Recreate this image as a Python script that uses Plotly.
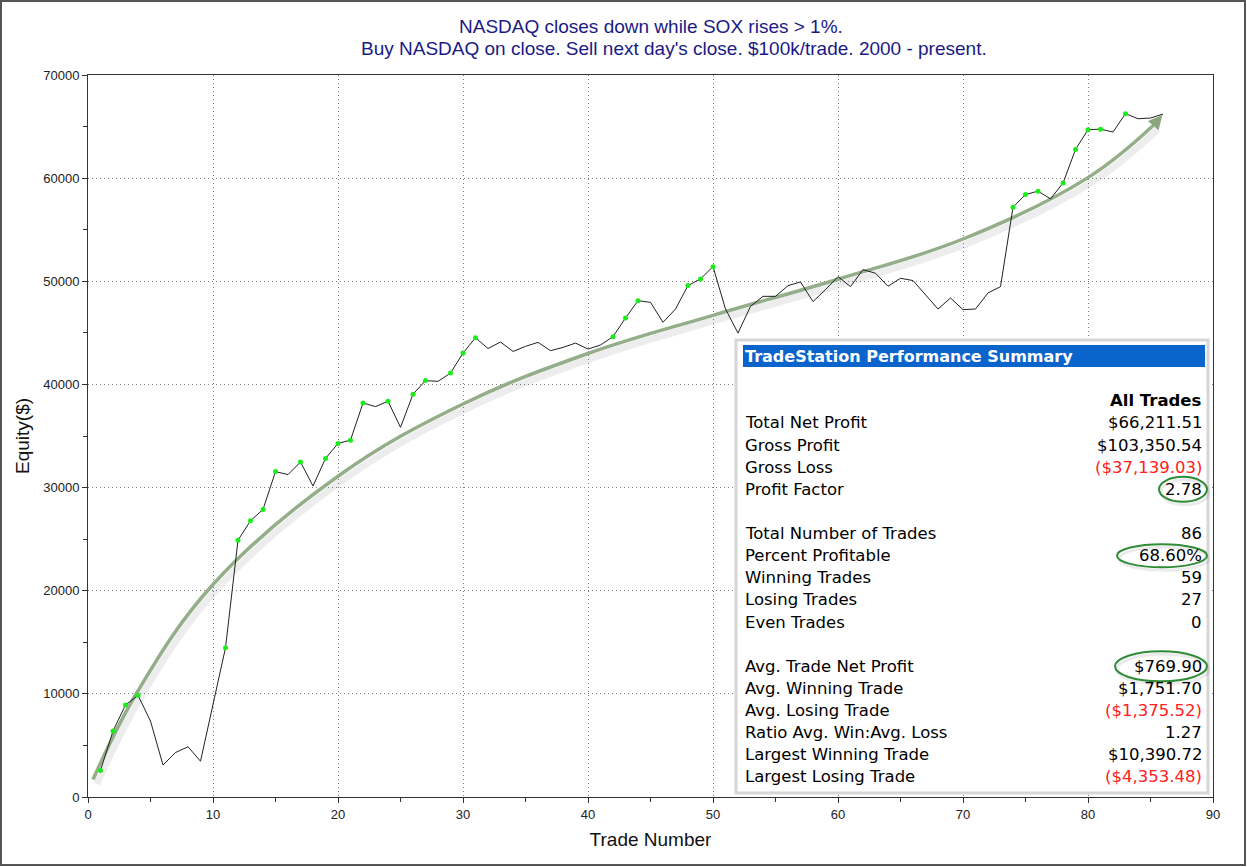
import plotly.graph_objects as go

# ---------------- data ----------------
trade_numbers = list(range(1, 87))
equity = [2580, 6390, 8930, 9850, 7360, 3100, 4310, 4870, 3470, 8900,
          14470, 24900, 26780, 27880, 31550, 31260, 32480, 30150, 32820, 34280,
          34600, 38200, 37850, 38370, 35840, 39050, 40370, 40300, 41100, 43040,
          44530, 43480, 44110, 43200, 43690, 44080, 43270, 43590, 44010, 43430,
          43820, 44630, 46440, 48120, 47960, 46020, 47310, 49580, 50230, 51420,
          47310, 44980, 47570, 48540, 48540, 49580, 49930, 48030, 49190, 50450,
          49480, 51130, 50780, 49520, 50290, 50070, 48710, 47310, 48380, 47250,
          47310, 48870, 49480, 57180, 58410, 58740, 57990, 59520, 62780, 64700,
          64750, 64470, 66250, 65760, 65830, 66212]

trend_x = [0.4, 4, 10, 20, 30, 40, 50, 60, 70, 80, 85.3]
trend_y = [1700, 10300, 20600, 31100, 38100, 43000, 46700, 50200, 54100, 60050, 65200]
arrow_tip = (85.95, 66120)

title_lines = ["NASDAQ closes down while SOX rises > 1%.",
               "Buy NASDAQ on close. Sell next day's close. $100k/trade. 2000 - present."]
x_ticks = list(range(0, 91, 10))
y_ticks = list(range(0, 70001, 10000))

table_title = "TradeStation Performance Summary"
table_column = "All Trades"
table_labels = ["Total Net Profit", "Gross Profit", "Gross Loss", "Profit Factor", "",
                "Total Number of Trades", "Percent Profitable", "Winning Trades", "Losing Trades",
                "Even Trades", "", "Avg. Trade Net Profit", "Avg. Winning Trade", "Avg. Losing Trade",
                "Ratio Avg. Win:Avg. Loss", "Largest Winning Trade", "Largest Losing Trade"]
table_values = ["$66,211.51", "$103,350.54", "($37,139.03)", "2.78", "",
                "86", "68.60%", "59", "27", "0", "",
                "$769.90", "$1,751.70", "($1,375.52)", "1.27", "$10,390.72", "($4,353.48)"]
circled_rows = [3, 6, 11]

# ---------------- layout geometry (pixels) ----------------
W, H = 1247, 867
L, R, T, B = 88, 1213, 75, 797


def px(xp):
    return (xp - L) / (R - L)


def py(yp):
    return (B - yp) / (B - T)


running_max = []
m = float("-inf")
for v in equity:
    running_max.append(v > m)
    m = max(m, v)
high_x = [t for t, h in zip(trade_numbers, running_max) if h]
high_y = [v for v, h in zip(equity, running_max) if h]

fig = go.Figure()

trend_color = "#94ae89"
# soft shadow of trend curve
fig.add_trace(go.Scatter(x=[x + 0.3 for x in trend_x], y=[y - 450 for y in trend_y], mode="lines",
                         line=dict(color="rgba(0,0,0,0.07)", width=7, shape="spline", smoothing=1.1),
                         hoverinfo="skip", showlegend=False))
fig.add_trace(go.Scatter(x=trend_x, y=trend_y, mode="lines",
                         line=dict(color=trend_color, width=3.5, shape="spline", smoothing=1.1),
                         hoverinfo="skip", showlegend=False))
fig.add_trace(go.Scatter(x=trade_numbers, y=equity, mode="lines",
                         line=dict(color="#222222", width=1), showlegend=False))
fig.add_trace(go.Scatter(x=high_x, y=high_y, mode="markers",
                         marker=dict(color="#19ee19", size=5), showlegend=False))

annotations = []
annotations.append(dict(x=arrow_tip[0], y=arrow_tip[1], ax=trend_x[-1], ay=trend_y[-1],
                        xref="x", yref="y", axref="x", ayref="y", text="", showarrow=True,
                        arrowhead=2, arrowsize=0.8, arrowwidth=3.5, arrowcolor="#8aa57f", standoff=0))

title_font = dict(family="Liberation Sans, Arial, sans-serif", size=19, color="#1a1a86")
annotations.append(dict(x=px(651), y=py(27), xref="paper", yref="paper", text=title_lines[0],
                        showarrow=False, font=title_font, xanchor="center", yanchor="middle"))
annotations.append(dict(x=px(674), y=py(48), xref="paper", yref="paper", text=title_lines[1],
                        showarrow=False, font=title_font, xanchor="center", yanchor="middle"))

shapes = []
# outer image frame
shapes.append(dict(type="rect", xref="paper", yref="paper", x0=px(1), x1=px(1245), y0=py(1), y1=py(865),
                   line=dict(color="#555555", width=2), layer="above"))
# table box
shapes.append(dict(type="rect", xref="paper", yref="paper", x0=px(736), x1=px(1208), y0=py(340), y1=py(793),
                   line=dict(color="#d6d6d6", width=3), fillcolor="white", layer="above"))
shapes.append(dict(type="rect", xref="paper", yref="paper", x0=px(743), x1=px(1205), y0=py(345), y1=py(367),
                   line=dict(width=0), fillcolor="#0a64cc", layer="above"))

tfont = "DejaVu Sans, Verdana, sans-serif"
annotations.append(dict(x=px(743), y=py(356.5), xref="paper", yref="paper", text="<b>" + table_title + "</b>",
                        showarrow=False, xanchor="left", yanchor="middle",
                        font=dict(family=tfont, size=16, color="white")))
annotations.append(dict(x=px(1204), y=py(400), xref="paper", yref="paper", text="<b>" + table_column + "</b>",
                        showarrow=False, xanchor="right", yanchor="middle",
                        font=dict(family=tfont, size=16.5, color="black")))
row0, step = 423, 22.12
for i, (lab, val) in enumerate(zip(table_labels, table_values)):
    yy = row0 + i * step
    if lab:
        annotations.append(dict(x=px(743), y=py(yy), xref="paper", yref="paper", text=lab,
                                showarrow=False, xanchor="left", yanchor="middle",
                                font=dict(family=tfont, size=16.5, color="black")))
    if val:
        col = "#ff2020" if val.startswith("(") else "black"
        annotations.append(dict(x=px(1204), y=py(yy), xref="paper", yref="paper", text=val,
                                showarrow=False, xanchor="right", yanchor="middle",
                                font=dict(family=tfont, size=16.5, color=col)))

ellipse_left = {3: 1159, 6: 1117, 11: 1115}
ellipse_half_h = {3: 12.5, 6: 11.5, 11: 15}
for r in circled_rows:
    yy = row0 + r * step
    hh = ellipse_half_h[r]
    shapes.append(dict(type="circle", xref="paper", yref="paper", x0=px(ellipse_left[r] + 2), x1=px(1209),
                       y0=py(yy + hh + 3), y1=py(yy - hh + 3), line=dict(color="rgba(0,0,0,0.08)", width=3),
                       layer="above"))
    shapes.append(dict(type="circle", xref="paper", yref="paper", x0=px(ellipse_left[r]), x1=px(1207),
                       y0=py(yy + hh), y1=py(yy - hh), line=dict(color="#2e8b36", width=2), layer="above"))

axis_common = dict(showline=True, linecolor="#333333", linewidth=1, mirror=True,
                   showgrid=True, gridcolor="#808080", griddash="1px,3px", gridwidth=1,
                   zeroline=False, ticks="outside", ticklen=5, tickcolor="#333333",
                   tickfont=dict(family="Liberation Sans, Arial, sans-serif", size=13, color="#222222"))

fig.update_layout(
    width=W, height=H,
    margin=dict(l=L, r=W - R, t=T, b=H - B),
    paper_bgcolor="white", plot_bgcolor="white",
    showlegend=False,
    xaxis=dict(range=[0, 90], tickvals=x_ticks, **axis_common,
               minor=dict(dtick=5, ticks="outside", ticklen=4, tickcolor="#333333", showgrid=False),
               title=dict(text="Trade Number", standoff=12,
                          font=dict(family="Liberation Sans, Arial, sans-serif", size=19, color="#111111"))),
    yaxis=dict(range=[0, 70000], tickvals=y_ticks, tickformat="d", **axis_common,
               minor=dict(dtick=5000, ticks="outside", ticklen=4, tickcolor="#333333", showgrid=False),
               title=dict(text="Equity($)", standoff=8,
                          font=dict(family="Liberation Sans, Arial, sans-serif", size=19, color="#111111"))),
    annotations=annotations,
    shapes=shapes,
)

fig.write_html("out.html", config={"displayModeBar": False},
               post_script="document.body.style.margin='0';document.body.style.overflow='hidden';")
